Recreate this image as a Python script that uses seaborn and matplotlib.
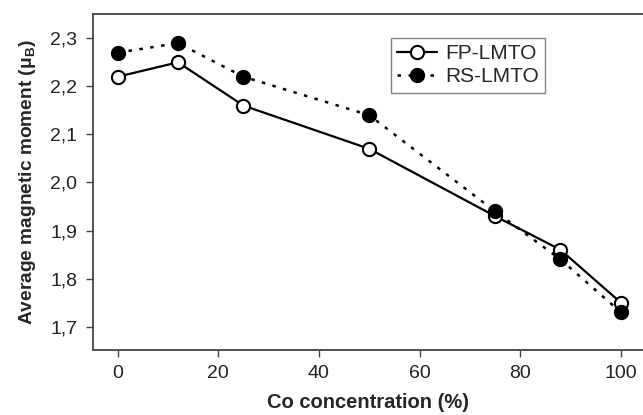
import matplotlib
matplotlib.use("Agg")
import matplotlib.pyplot as plt
import seaborn as sns
import pandas as pd
from matplotlib.ticker import FixedLocator, FixedFormatter

# Data
co_conc = [0, 12, 25, 50, 75, 88, 100]
fp_lmto = [2.22, 2.25, 2.16, 2.07, 1.93, 1.86, 1.75]
rs_lmto = [2.27, 2.29, 2.22, 2.14, 1.94, 1.84, 1.73]
y_ticks = [1.7, 1.8, 1.9, 2.0, 2.1, 2.2, 2.3]
y_tick_labels = ["1,7", "1,8", "1,9", "2,0", "2,1", "2,2", "2,3"]
x_ticks = [0, 20, 40, 60, 80, 100]
x_tick_labels = ["0", "20", "40", "60", "80", "100"]

sns.set_theme(style="white")
plt.rcParams["font.family"] = ["Liberation Sans", "DejaVu Sans"]
plt.rcParams["mathtext.default"] = "regular"

fig = plt.figure(figsize=(6.43, 4.15), dpi=100)
ax = fig.add_axes([92.7 / 643, 1 - 350 / 415, 1 - 92.7 / 643, (350 - 14) / 415])

df_fp = pd.DataFrame({"x": co_conc, "y": fp_lmto})
df_rs = pd.DataFrame({"x": co_conc, "y": rs_lmto})

sns.lineplot(data=df_fp, x="x", y="y", ax=ax, color="black", linewidth=1.6,
             marker="o", markersize=9.5, markerfacecolor="white",
             markeredgecolor="black", markeredgewidth=1.5, label="FP-LMTO",
             zorder=2)
sns.lineplot(data=df_rs, x="x", y="y", ax=ax, color="black", linewidth=1.8,
             linestyle=(0, (1.4, 3.0)), marker="o", markersize=9.5,
             markerfacecolor="black", markeredgecolor="black",
             markeredgewidth=1.5, label="RS-LMTO", zorder=3)

ax.set_xlim(-4.95, 104.4)
ax.set_ylim(1.6515, 2.3505)
ax.xaxis.set_major_locator(FixedLocator(x_ticks))
ax.xaxis.set_major_formatter(FixedFormatter(x_tick_labels))
ax.yaxis.set_major_locator(FixedLocator(y_ticks))
ax.yaxis.set_major_formatter(FixedFormatter(y_tick_labels))

ax.tick_params(axis="both", which="major", direction="out", length=5,
               width=1.0, color="#444444", labelsize=14, labelcolor="#222222",
               bottom=True, left=True, pad=6)

for side in ["left", "bottom", "top"]:
    ax.spines[side].set_color("#444444")
    ax.spines[side].set_linewidth(1.3)
ax.spines["right"].set_visible(False)

ax.set_xlabel("Co concentration (%)", fontsize=14.5, fontweight="bold", labelpad=8)
ax.set_ylabel("Average magnetic moment (μ$_B$)", fontsize=13.8, fontweight="bold", labelpad=9)

leg = ax.legend(loc="upper right", bbox_to_anchor=(0.822, 0.929), fontsize=15,
                frameon=True, fancybox=False, edgecolor="#666666",
                handlelength=1.9, handletextpad=0.4, borderpad=0.3,
                labelspacing=0.2, borderaxespad=0)
leg.get_frame().set_linewidth(1.0)

fig.savefig("out.png", dpi=100)
